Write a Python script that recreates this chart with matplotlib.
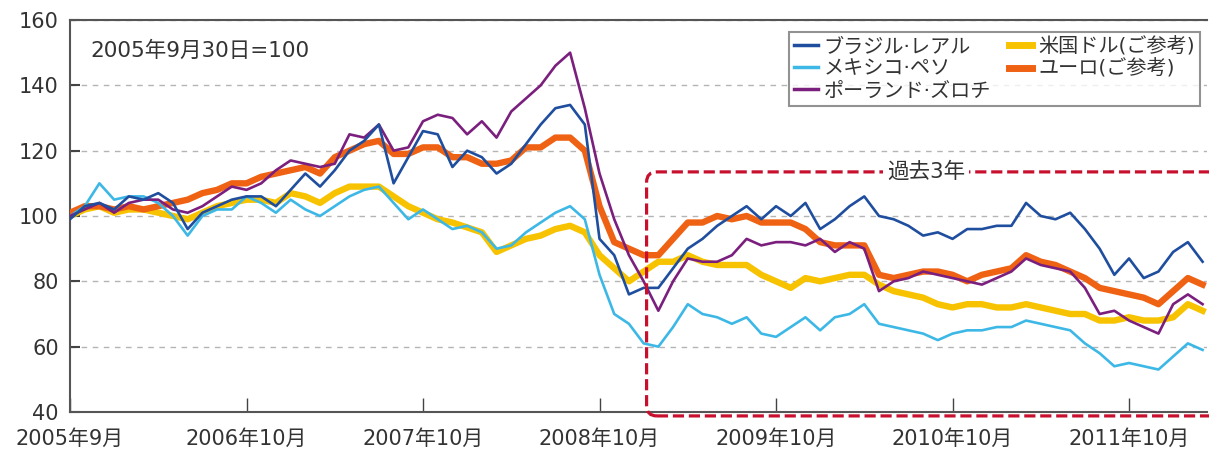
import matplotlib
matplotlib.use("Agg")
import matplotlib.pyplot as plt
from matplotlib.patches import FancyBboxPatch
from matplotlib.lines import Line2D

plt.rcParams['font.family'] = ['DejaVu Sans', 'Noto Sans CJK JP']

# months since 2005-09-30 (one value per month)
months = list(range(78))

brl = [99, 103, 104, 102, 106, 105, 107, 104, 96, 101, 103, 105, 106, 106, 103, 108,
       113, 109, 114, 120, 123, 128, 110, 118, 126, 125, 115, 120, 118, 113, 116, 122,
       128, 133, 134, 128, 93, 88, 76, 78, 78, 84, 90, 93, 97, 100, 103, 99,
       103, 100, 104, 96, 99, 103, 106, 100, 99, 97, 94, 95, 93, 96, 96, 97,
       97, 104, 100, 99, 101, 96, 90, 82, 87, 81, 83, 89, 92, 86]

mxn = [100, 103, 110, 105, 106, 106, 104, 100, 94, 100, 102, 102, 106, 104, 101, 105,
       102, 100, 103, 106, 108, 109, 104, 99, 102, 99, 96, 97, 95, 90, 91, 95,
       98, 101, 103, 99, 82, 70, 67, 61, 60, 66, 73, 70, 69, 67, 69, 64,
       63, 66, 69, 65, 69, 70, 73, 67, 66, 65, 64, 62, 64, 65, 65, 66,
       66, 68, 67, 66, 65, 61, 58, 54, 55, 54, 53, 57, 61, 59]

pln = [100, 102, 104, 101, 104, 105, 105, 102, 101, 103, 106, 109, 108, 110, 114, 117,
       116, 115, 116, 125, 124, 128, 120, 121, 129, 131, 130, 125, 129, 124, 132, 136,
       140, 146, 150, 133, 113, 99, 88, 80, 71, 80, 87, 86, 86, 88, 93, 91,
       92, 92, 91, 93, 89, 92, 90, 77, 80, 81, 83, 82, 81, 80, 79, 81,
       83, 87, 85, 84, 83, 78, 70, 71, 68, 66, 64, 73, 76, 73]

usd = [100, 102, 103, 101, 102, 102, 101, 100, 99, 101, 103, 104, 105, 105, 104, 107,
       106, 104, 107, 109, 109, 109, 106, 103, 101, 99, 98, 96.5, 95, 89, 91, 93,
       94, 96, 97, 95, 88, 84, 80, 83, 86, 86, 88, 86, 85, 85, 85, 82,
       80, 78, 81, 80, 81, 82, 82, 79, 77, 76, 75, 73, 72, 73, 73, 72,
       72, 73, 72, 71, 70, 70, 68, 68, 69, 68, 68, 69, 73, 71]

eur = [101, 103, 103, 102, 103, 102, 103, 104, 105, 107, 108, 110, 110, 112, 113, 114,
       115, 113, 118, 120, 122, 123, 119, 119, 121, 121, 118, 118, 116, 116, 117, 121,
       121, 124, 124, 120, 103, 92, 90, 88, 88, 93, 98, 98, 100, 99, 100, 98,
       98, 98, 96, 92, 91, 91, 91, 82, 81, 82, 83, 83, 82, 80, 82, 83,
       84, 88, 86, 85, 83, 81, 78, 77, 76, 75, 73, 77, 81, 79]

labels = ['ブラジル·レアル', 'メキシコ·ペソ', 'ポーランド·ズロチ', '米国ドル(ご参考)', 'ユーロ(ご参考)']
colors = ['#1f4e9f', '#3db8e6', '#7b1f7e', '#f7c300', '#ef6214']

tick_pos = [0, 12, 24, 36, 48, 60, 72]
tick_labels = ['2005年9月', '2006年10月', '2007年10月', '2008年10月',
               '2009年10月', '2010年10月', '2011年10月']

fig = plt.figure(figsize=(12.09, 4.5), dpi=100)
ax = fig.add_axes([70 / 1209, 38 / 450, 1137 / 1209, 392 / 450])

ax.set_xlim(0, 77.3)
ax.set_ylim(40, 160)

ax.yaxis.grid(True, linestyle=(0, (4, 4)), color='#b4b4b4', linewidth=1.0)
ax.set_axisbelow(True)

thick = 4.6
thin = 1.9
ax.plot(months, usd, color=colors[3], lw=thick, solid_joinstyle='round', zorder=2)
ax.plot(months, eur, color=colors[4], lw=thick, solid_joinstyle='round', zorder=3)
ax.plot(months, mxn, color=colors[1], lw=thin, zorder=4)
ax.plot(months, pln, color=colors[2], lw=thin, zorder=5)
ax.plot(months, brl, color=colors[0], lw=thin, zorder=6)

ax.set_yticks([40, 60, 80, 100, 120, 140, 160])
ax.set_xticks(tick_pos)
ax.set_xticklabels(tick_labels)
ax.tick_params(axis='both', direction='in', colors='#444444', labelcolor='#333333',
               labelsize=15)
ax.tick_params(axis='y', length=7, width=1.5, pad=8)
ax.tick_params(axis='x', length=10, width=1, pad=12)

for s in ['left', 'bottom', 'top']:
    ax.spines[s].set_color('#555555')
    ax.spines[s].set_linewidth(1.5)
ax.spines['right'].set_visible(False)

# "過去3年" dashed box
x0, y0 = 39.2, 38.8
box = FancyBboxPatch((x0, y0), 78.8 - x0, 113.5 - y0,
                     boxstyle="round,pad=0,rounding_size=0.7",
                     mutation_aspect=4.5, fill=False, edgecolor='#c8102e',
                     linewidth=2.3, linestyle=(0, (3.5, 1.5)), clip_on=False, zorder=7)
ax.add_patch(box)
ax.text(58.2, 113.5, '過去3年', ha='center', va='center', fontsize=15.5, color='#333333',
        bbox=dict(facecolor='white', edgecolor='none', pad=3), zorder=8)

ax.text(1.4, 150.5, '2005年9月30日=100', ha='left', va='center', fontsize=15.5,
        color='#333333', zorder=8)

handles = [Line2D([], [], color=colors[0], lw=2.5),
           Line2D([], [], color=colors[1], lw=2.5),
           Line2D([], [], color=colors[2], lw=2.5),
           Line2D([], [], color=colors[3], lw=5),
           Line2D([], [], color=colors[4], lw=5)]
leg = ax.legend(handles, labels, ncol=2, loc='upper right',
                bbox_to_anchor=(1200 / 1209, (450 - 32) / 450),
                bbox_transform=fig.transFigure, fontsize=14.5, frameon=True,
                fancybox=False, edgecolor='#777777', handlelength=1.15,
                handletextpad=0.3, columnspacing=0.9, labelspacing=0.15,
                borderpad=0.25, borderaxespad=0)
leg.get_frame().set_linewidth(1.5)
for t in leg.get_texts():
    t.set_color('#333333')
leg.set_zorder(9)

fig.savefig('out.png', dpi=100)
